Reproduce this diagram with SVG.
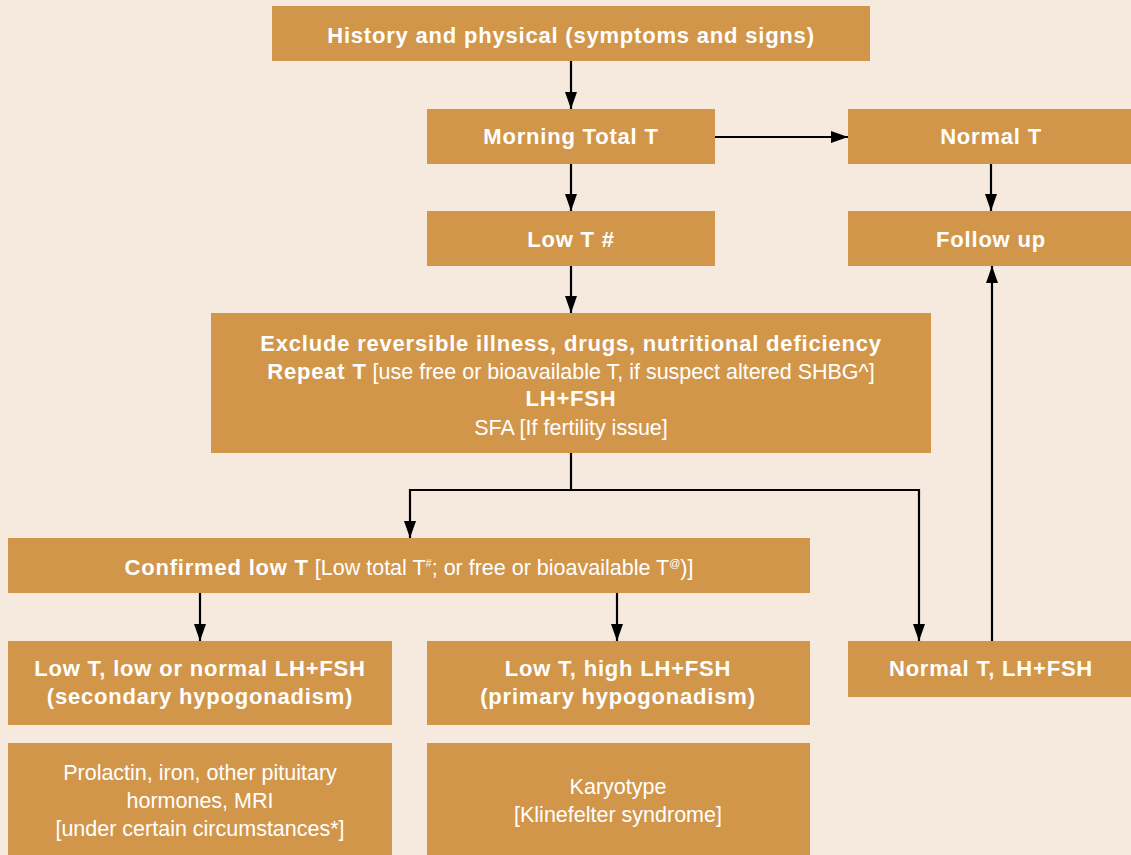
<svg xmlns="http://www.w3.org/2000/svg" width="1131" height="855" viewBox="0 0 1131 855">
<defs>
<marker id="ah" markerWidth="17" markerHeight="12" refX="17" refY="6" orient="auto" markerUnits="userSpaceOnUse">
<path d="M0,0 L17,6 L0,12 Z" fill="#000"/>
</marker>
<style>
.box{fill:#D2964A}
.t{font-family:"Liberation Sans",Arial,sans-serif;font-size:22px;fill:#fff;text-anchor:middle}
.b{font-weight:bold;letter-spacing:0.8px}
.r{font-weight:normal;font-size:21.5px;letter-spacing:0}
.sup{font-weight:normal;font-size:11px}
.c{fill:none;stroke:#000;stroke-width:2.2}
</style>
</defs>
<rect width="1131" height="855" fill="#F6E9DD"/>
<g id="connectors">
<path class="c" d="M571,61 V109" marker-end="url(#ah)"/>
<path class="c" d="M571,164 V211" marker-end="url(#ah)"/>
<path class="c" d="M571,266 V313" marker-end="url(#ah)"/>
<path class="c" d="M715,137 H848" marker-end="url(#ah)"/>
<path class="c" d="M991,164 V211" marker-end="url(#ah)"/>
<path class="c" d="M571,453 V490"/>
<path class="c" d="M410,490 H919"/>
<path class="c" d="M410,489 V538" marker-end="url(#ah)"/>
<path class="c" d="M919,489 V641" marker-end="url(#ah)"/>
<path class="c" d="M200,593 V641" marker-end="url(#ah)"/>
<path class="c" d="M617,593 V641" marker-end="url(#ah)"/>
<path class="c" d="M992,641 V266" marker-end="url(#ah)"/>
</g>
<g id="history"><rect class="box" x="272" y="6" width="598" height="55"/><text class="t b" x="571" y="43">History and physical (symptoms and signs)</text></g>
<g id="morning"><rect class="box" x="427" y="109" width="288" height="55"/><text class="t b" x="571" y="144">Morning Total T</text></g>
<g id="normalT"><rect class="box" x="848" y="109" width="283" height="55"/><text class="t b" x="991" y="144">Normal T</text></g>
<g id="lowT"><rect class="box" x="427" y="211" width="288" height="55"/><text class="t b" x="571" y="247">Low T #</text></g>
<g id="followup"><rect class="box" x="848" y="211" width="283" height="55"/><text class="t b" x="991" y="247">Follow up</text></g>
<g id="exclude"><rect class="box" x="211" y="313" width="720" height="140"/>
<text class="t b" x="571" y="351">Exclude reversible illness, drugs, nutritional deficiency</text>
<text class="t" x="571" y="379"><tspan class="b">Repeat T</tspan><tspan class="r"> [use free or bioavailable T, if suspect altered SHBG^]</tspan></text>
<text class="t b" x="571" y="406">LH+FSH</text>
<text class="t r" x="571" y="435">SFA [If fertility issue]</text>
</g>
<g id="confirmed"><rect class="box" x="8" y="538" width="802" height="55"/>
<text class="t" x="409" y="575"><tspan class="b">Confirmed low T</tspan><tspan class="r"> [Low total T</tspan><tspan class="sup" dy="-8">#</tspan><tspan class="r" dy="8">; or free or bioavailable T</tspan><tspan class="sup" dy="-8">@</tspan><tspan class="r" dy="8">)]</tspan></text>
</g>
<g id="secondary"><rect class="box" x="8" y="641" width="384" height="84"/>
<text class="t b" x="200" y="676">Low T, low or normal LH+FSH</text>
<text class="t b" x="200" y="704">(secondary hypogonadism)</text>
</g>
<g id="primary"><rect class="box" x="427" y="641" width="383" height="84"/>
<text class="t b" x="618" y="676">Low T, high LH+FSH</text>
<text class="t b" x="618" y="704">(primary hypogonadism)</text>
</g>
<g id="normalLH"><rect class="box" x="848" y="641" width="283" height="56"/><text class="t b" x="991" y="676">Normal T, LH+FSH</text></g>
<g id="prolactin"><rect class="box" x="8" y="743" width="384" height="112"/>
<text class="t r" x="200" y="780">Prolactin, iron, other pituitary</text>
<text class="t r" x="200" y="808">hormones, MRI</text>
<text class="t r" x="200" y="836">[under certain circumstances*]</text>
</g>
<g id="karyotype"><rect class="box" x="427" y="743" width="383" height="112"/>
<text class="t r" x="618" y="794">Karyotype</text>
<text class="t r" x="618" y="822">[Klinefelter syndrome]</text>
</g>
</svg>
